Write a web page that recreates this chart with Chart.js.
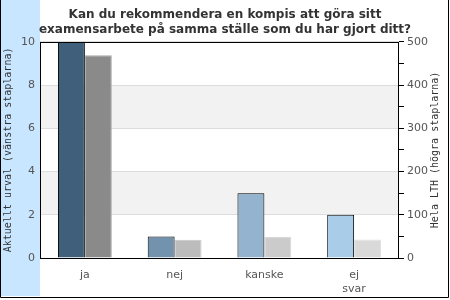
<!DOCTYPE html>
<html>
<head>
<meta charset="utf-8">
<script src="https://cdn.jsdelivr.net/npm/chart.js@4"></script>
<style>
  body { margin: 0; background: #fff; }
  #wrap { width: 450px; height: 300px; }
</style>
</head>
<body>
<div id="wrap"><canvas id="chart" width="450" height="300"></canvas></div>
<script>
const categories = ["ja", "nej", "kanske", ["ej", "svar"]];
const urval = [10, 1, 3, 2];          // left axis, Aktuellt urval
const helaLTH = [469, 42, 49, 43];    // right axis, Hela LTH
const leftTicks = [0, 2, 4, 6, 8, 10];
const rightTicks = [0, 100, 200, 300, 400, 500];

const leftColors = ["#3f5f7b", "#7392ad", "#93b3ce", "#a9cde9"];
const rightColors = ["#8a8a8a", "#bcbcbc", "#cbcbcb", "#d9d9d9"];
const rightBorders = ["#a8a8a8", "#c8c8c8", "#d4d4d4", "#e0e0e0"];

const font = "'DejaVu Sans', Verdana, sans-serif";
const mono = "'DejaVu Sans Mono', monospace";

const decor = {
  id: "decor",
  beforeDraw(chart) {
    const { ctx, chartArea: a } = chart;
    ctx.save();
    ctx.fillStyle = "#c8e6ff";
    ctx.fillRect(1, 0, 39, 296);
    // alternating bands
    const y = chart.scales.y;
    ctx.fillStyle = "#f2f2f2";
    [[2, 4], [6, 8]].forEach(([lo, hi]) => {
      const top = y.getPixelForValue(hi);
      const bot = y.getPixelForValue(lo);
      ctx.fillRect(a.left, top, a.right - a.left, bot - top);
    });
    ctx.restore();
  },
  afterDraw(chart) {
    const { ctx, chartArea: a } = chart;
    ctx.save();
    ctx.strokeStyle = "#000";
    ctx.lineWidth = 1;
    ctx.strokeRect(Math.round(a.left) + 0.5, Math.round(a.top) + 0.5,
      Math.round(a.right - a.left) - 1, Math.round(a.bottom - a.top));
    // outer frame
    ctx.beginPath();
    ctx.moveTo(0.5, 0);
    ctx.lineTo(0.5, 297.5);
    ctx.lineTo(448.5, 297.5);
    ctx.lineTo(448.5, 0);
    ctx.stroke();
    // right axis title, reading bottom to top
    ctx.translate(435, (a.top + a.bottom) / 2);
    ctx.rotate(-Math.PI / 2);
    ctx.fillStyle = "#333";
    ctx.font = "10px " + mono;
    ctx.textAlign = "center";
    ctx.textBaseline = "middle";
    ctx.fillText("Hela LTH (högra staplarna)", 0, 0);
    ctx.restore();
  }
};

new Chart(document.getElementById("chart"), {
  type: "bar",
  data: {
    labels: categories,
    datasets: [
      {
        label: "Aktuellt urval",
        data: urval,
        yAxisID: "y",
        backgroundColor: leftColors,
        borderColor: "#000",
        borderWidth: 1,
      },
      {
        label: "Hela LTH",
        data: helaLTH,
        yAxisID: "y1",
        backgroundColor: rightColors,
        borderColor: rightBorders,
        borderWidth: 1,
      },
    ],
  },
  options: {
    responsive: false,
    animation: false,
    layout: { padding: 0 },
    datasets: { bar: { categoryPercentage: 0.6, barPercentage: 1.0 } },
    plugins: {
      legend: { display: false },
      tooltip: { enabled: false },
      title: {
        display: true,
        text: ["Kan du rekommendera en kompis att göra sitt",
               "examensarbete på samma ställe som du har gjort ditt?"],
        color: "#333",
        font: { family: font, size: 12, weight: "bold", lineHeight: 1.2 },
        padding: { top: 8, bottom: 5 },
      },
    },
    scales: {
      x: {
        grid: { display: false, drawTicks: false },
        border: { display: false },
        ticks: { color: "#555", font: { family: font, size: 11 }, padding: 11, maxRotation: 0 },
        afterFit: (s) => { s.height = 42; },
      },
      y: {
        position: "left",
        min: 0,
        max: 10,
        afterBuildTicks: (s) => { s.ticks = leftTicks.map((v) => ({ value: v })); },
        grid: { color: "#dddddd", drawTicks: false },
        border: { display: false },
        ticks: { color: "#555", font: { family: font, size: 11 }, padding: 5 },
        title: {
          display: true,
          text: "Aktuellt urval (vänstra staplarna)",
          color: "#333",
          font: { family: mono, size: 10 },
          padding: { top: 2, bottom: 0 },
        },
        afterFit: (s) => { s.width = 40; },
      },
      y1: {
        position: "right",
        min: 0,
        max: 500,
        ticks: {
          stepSize: 50,
          color: "#555",
          font: { family: font, size: 11 },
          padding: 3,
          callback: (v) => (rightTicks.includes(v) ? String(v) : ""),
        },
        grid: { drawOnChartArea: false, drawTicks: true, tickLength: 5, color: "#000" },
        border: { display: false },
        afterFit: (s) => { s.width = 51; },
      },
    },
  },
  plugins: [decor],
});
</script>
</body>
</html>
